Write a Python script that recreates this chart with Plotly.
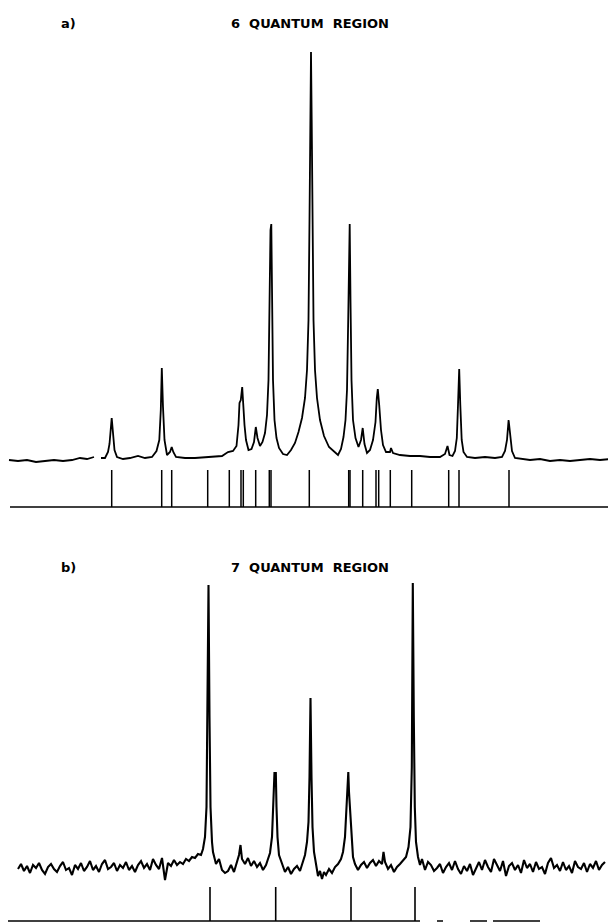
import plotly.graph_objects as go

# ---------------- data: panel a (6 quantum region) ----------------
a_x = [9, 18, 27, 36, 45, 54, 63, 72, 80, 87, 94, None,
       101, 105, 108, 109.5, 111.7, 113, 114.5, 117, 123, 130, 138, 145, 152,
       156.5, 159.3, 160.8, 161.8, 163, 164.5, 167, 170, 171.7, 173.3, 176, 185, 195, 205, 215, 222,
       228, 233, 236.5, 238.5, 239.5, 240.8, 242.2, 243.5, 244.5, 246, 248.5, 251.5, 254, 255.8, 257.5,
       260, 262.5, 265, 267, 268.5, 269.5, 270.5, 271.3, 272.2, 273, 274.5, 276.5, 279, 283, 287,
       291, 295, 298.5, 302, 305, 307, 308.5, 309.5, 310.5, 311, 311.7, 312.5, 313.5, 315, 317, 320,
       324, 329, 334, 338, 341, 343.5, 345.5, 347, 348.2, 349, 349.7, 350.5, 351.5, 353, 355.5, 358.5,
       361, 362.7, 364.5, 367, 370, 373, 375.5, 376.8, 377.8, 379.2, 381, 383, 386, 390, 391, 393,
       400, 410, 420, 430, 440, 445, 447.5, 449.5, 452.5, 455, 456.8, 458, 459.2, 460.3, 461.7, 463.5,
       467, 475, 485, 495, 502, 505, 507, 508.6, 510.2, 512, 515, 522, 530, 540, 550, 560, 570, 580,
       590, 600, 611]
a_y = [0, -1, 0, -2, -1, 0, -1, 0, 2, 1, 3, None,
       2, 2, 8, 16, 42, 22, 10, 3, 1, 2, 4, 2, 3,
       9, 20, 50, 92, 53, 20, 5, 8, 13, 8, 3, 2, 2, 3, 4, 4,
       8, 9, 14, 35, 57, 60, 73, 50, 35, 20, 10, 11, 18, 33, 22,
       14, 18, 27, 45, 80, 160, 230, 236, 160, 80, 40, 22, 12, 6, 5,
       10, 17, 28, 42, 62, 90, 140, 240, 340, 408, 340, 240, 140, 90, 62, 40,
       24, 13, 8, 5, 11, 23, 40, 70, 140, 210, 236, 160, 80, 40, 22, 13,
       20, 32, 16, 7, 10, 20, 38, 62, 71, 55, 30, 15, 8, 8, 12, 7,
       5, 4, 4, 3, 3, 6, 14, 5, 4, 9, 22, 55, 91, 55, 20, 8,
       3, 2, 3, 2, 3, 9, 20, 40, 22, 9, 2, 1, 0, 1, -1, 0, -1, 0,
       1, 0, 1]
a_sticks = [111.7, 161.7, 171.7, 207.7, 229.3, 241, 243.3, 255.7, 269.3, 271,
            309.3, 348.7, 350, 362.7, 376, 378.7, 390.3, 411.7, 448.7, 459, 509]

# ---------------- data: panel b (7 quantum region) ----------------
b_x = [18, 21, 24, 27, 30, 33, 36, 39, 42, 45, 48, 51, 54, 57, 60, 63, 66, 69, 72, 75,
       78, 81, 84, 87, 90, 93, 96, 99, 102, 105, 108, 111, 114, 117, 120, 123, 126, 129, 132, 135,
       138, 141, 144, 147, 150, 153, 156, 159, 162, 165, 168, 171, 174, 177, 180, 183, 186, 189, 192, 195,
       198, 201, 203, 205, 206.5, 207.5, 208.5, 209.5, 210.5, 212, 213, 216, 219, 222, 225, 228, 231, 234,
       237, 239, 240.5, 242, 245, 248, 251, 254, 257, 260, 263, 266, 268, 270, 272, 273.5, 274.5, 275.3,
       275.8, 276.5, 277.5, 279, 282, 285, 288, 291, 294, 297, 300, 303, 305, 307, 308.5, 309.5, 310.5,
       311.5, 312.5, 314, 316, 318, 320, 322, 324, 326, 329, 332, 335, 338, 341, 343, 345, 346.5, 347.5,
       348.3, 349, 350, 351.5, 353, 355, 358, 361, 364, 367, 370, 373, 376, 379, 382, 383.5, 385, 388,
       391, 394, 397, 400, 403, 406, 408.5, 410.5, 411.8, 412.8, 413.8, 414.8, 416, 418, 420, 422, 425,
       428, 431, 434, 437, 440, 443, 446, 449, 452, 455, 458, 461, 464, 467, 470, 473, 476, 479, 482,
       485, 488, 491, 494, 497, 500, 503, 506, 509, 512, 515, 518, 521, 524, 527, 530, 533, 536, 539,
       542, 545, 548, 551, 554, 557, 560, 563, 566, 569, 572, 575, 578, 581, 584, 587, 590, 593, 596,
       599, 602, 605]
b_y = [-2, 3, -4, 1, -6, 2, -1, 4, -3, -7, 0, 3, -2, -5, 1, 5, -3, -1, -8, 2,
       -2, 4, -4, 0, 6, -3, 1, -5, 3, 7, -2, 0, 4, -4, 2, -1, 5, -3, 1, -5,
       2, 6, -1, 3, -3, 8, 2, -2, 9, -13, 4, 1, 7, 2, 5, 3, 8, 6, 10, 9,
       13, 12, 18, 30, 60, 150, 282, 150, 60, 25, 15, 3, 8, -3, -6, -4, 2, -5,
       5, 12, 22, 8, 3, 9, 1, 6, 0, 4, -3, 2, 8, 14, 30, 60, 95, 80,
       95, 60, 30, 12, 3, -5, 0, -7, -2, 1, -4, 5, 12, 25, 45, 90, 169,
       90, 40, 15, 2, -9, -4, -12, -5, -8, -2, -6, 0, 3, 8, 15, 30, 60, 80,
       95, 75, 55, 25, 10, 3, -3, 2, 5, -1, 4, 7, 1, 6, 3, 15, 5, -2,
       2, -5, 0, 3, 6, 10, 20, 40, 100, 284, 150, 60, 25, 10, 2, 8, -3,
       5, 2, -4, -1, 3, -6, 0, 4, -3, 6, -2, -7, 1, -4, 3, -8, -2, 5, -3,
       7, 0, -5, 8, 2, -4, 6, -9, 1, 4, -3, 2, -6, 7, -1, 3, -5, 5, -2,
       0, -7, 4, 9, -1, 2, -4, 5, -3, 1, -6, 6, 0, -2, 4, -5, 3, -1, 6,
       -3, 2, 5]
b_sticks = [210, 275.7, 351, 415]

# ---------------- figure ----------------
# The page body adds an 8 px margin, so the figure is 8 px smaller than the
# window and axis ranges/domains are expressed in window pixels.
PAGE_W, PAGE_H, OFF = 616, 923, 8
W, H = PAGE_W - OFF, PAGE_H - OFF
fig = go.Figure()


def sticks(xs, top, bottom):
    sx, sy = [], []
    for v in xs:
        sx += [v, v, None]
        sy += [top, bottom, None]
    return sx, sy


def fy(p):  # window pixel row -> paper fraction
    return 1 - (p - OFF) / H


# panel a
fig.add_trace(go.Scatter(x=a_x, y=a_y, mode="lines", line=dict(color="black", width=1.8),
                         connectgaps=False, xaxis="x", yaxis="y", hoverinfo="skip"))
sx, sy = sticks(a_sticks, -10, -47)
fig.add_trace(go.Scatter(x=sx, y=sy, mode="lines", line=dict(color="black", width=1.5),
                         xaxis="x", yaxis="y", hoverinfo="skip"))
fig.add_trace(go.Scatter(x=[10, 612], y=[-47, -47], mode="lines",
                         line=dict(color="black", width=1.5), xaxis="x", yaxis="y", hoverinfo="skip"))

# panel b
fig.add_trace(go.Scatter(x=b_x, y=b_y, mode="lines", line=dict(color="black", width=2.1),
                         xaxis="x2", yaxis="y2", hoverinfo="skip"))
sx, sy = sticks(b_sticks, -20, -54)
fig.add_trace(go.Scatter(x=sx, y=sy, mode="lines", line=dict(color="black", width=1.6),
                         xaxis="x2", yaxis="y2", hoverinfo="skip"))
fig.add_trace(go.Scatter(x=[8, 420, None, 437, 443, None, 470, 487, None, 493, 540],
                         y=[-54, -54, None, -54, -54, None, -54, -54, None, -54, -54],
                         mode="lines", line=dict(color="black", width=1.5),
                         xaxis="x2", yaxis="y2", hoverinfo="skip"))

ax_off = dict(visible=False, showgrid=False, zeroline=False, fixedrange=True)
fig.update_layout(
    width=W, height=H, margin=dict(l=0, r=0, t=0, b=0),
    paper_bgcolor="white", plot_bgcolor="white", showlegend=False,
    xaxis=dict(range=[OFF, PAGE_W], domain=[0, 1], anchor="y", **ax_off),
    yaxis=dict(range=[-60, 420], domain=[fy(520), fy(40)], anchor="x", **ax_off),
    xaxis2=dict(range=[OFF, PAGE_W], domain=[0, 1], anchor="y2", **ax_off),
    yaxis2=dict(range=[-56, 307], domain=[0, fy(560)], anchor="x2", **ax_off),
)

font = dict(family="DejaVu Sans", size=13, color="black")
for label, title, ypix in [("a)", "6  QUANTUM  REGION", 23), ("b)", "7  QUANTUM  REGION", 567)]:
    fig.add_annotation(text="<b>" + label + "</b>", x=(59 - OFF) / W, y=fy(ypix), xref="paper", yref="paper",
                       xanchor="left", yanchor="middle", showarrow=False, font=font)
    fig.add_annotation(text="<b>" + title + "</b>", x=(229 - OFF) / W, y=fy(ypix), xref="paper", yref="paper",
                       xanchor="left", yanchor="middle", showarrow=False, font=font)

fig.write_html("out.html")
